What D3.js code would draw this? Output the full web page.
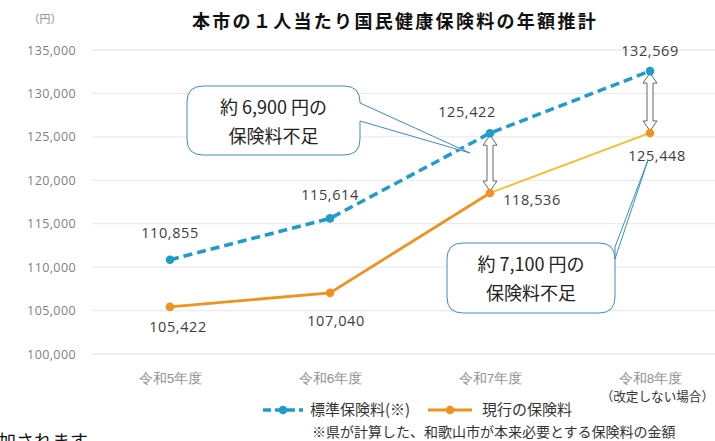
<!DOCTYPE html>
<html>
<head>
<meta charset="utf-8">
<script src="https://cdn.jsdelivr.net/npm/d3@7"></script>
<style>
  body { margin: 0; background: #fff; }
  svg { display: block; font-family: "Noto Sans CJK JP", "Noto Sans", sans-serif; }
</style>
</head>
<body>
<svg></svg>
<script>
const width = 715;
const height = 441;

// data
const years = ["令和5年度", "令和6年度", "令和7年度", "令和8年度"];
const standard = [110855, 115614, 125422, 132569];   // 標準保険料(※)
const current = [105422, 107040, 118536, 125448];    // 現行の保険料
const yTicks = [100000, 105000, 110000, 115000, 120000, 125000, 130000, 135000];

const svg = d3.select("svg")
    .attr("width", width)
    .attr("height", height);

const x = d3.scalePoint().domain(years).range([170, 650]);
const y = d3.scaleLinear().domain([100000, 135000]).range([354, 50]);
const fmt = d3.format(",");

// gridlines
svg.append("g").selectAll("line")
    .data(yTicks)
    .enter().append("line")
    .attr("x1", 92).attr("x2", width)
    .attr("y1", d => y(d)).attr("y2", d => y(d))
    .attr("stroke", "#ebebeb").attr("stroke-width", 1.3);

// y axis labels
const yAxis = d3.axisLeft(y).tickValues(yTicks).tickFormat(fmt).tickSize(0).tickPadding(0);
const gy = svg.append("g").attr("transform", "translate(76,0)").call(yAxis);
gy.select(".domain").remove();
gy.selectAll("text")
    .attr("fill", "#7f7f7f").style("font-size", "12.5px")
    .style("letter-spacing", "0.4px")
    .style("font-family", "'Open Sans', sans-serif");

svg.append("text").attr("x", 45).attr("y", 23).attr("text-anchor", "middle")
    .attr("fill", "#8a8a8a").style("font-size", "11px").text("（円）");

// x axis labels
const xAxis = d3.axisBottom(x).tickSize(0).tickPadding(0);
const gx = svg.append("g").attr("transform", "translate(0,373)").call(xAxis);
gx.select(".domain").remove();
gx.selectAll("text").attr("fill", "#8f8f8f").style("font-size", "13.5px");

svg.append("text").attr("x", 714).attr("y", 401).attr("text-anchor", "end")
    .attr("fill", "#333").style("font-size", "12.6px").text("（改定しない場合）");

// title
svg.append("text").attr("x", 395).attr("y", 28).attr("text-anchor", "middle")
    .attr("fill", "#111").style("font-size", "18px").style("font-weight", "bold")
    .style("letter-spacing", "2.3px")
    .text("本市の１人当たり国民健康保険料の年額推計");

// lines
const line = d3.line().x((d, i) => x(years[i])).y(d => y(d));
const blue = "#1f9cc9";
const orange = "#f0921e";

svg.append("path").datum(standard)
    .attr("d", line).attr("fill", "none")
    .attr("stroke", blue).attr("stroke-width", 3.5)
    .attr("stroke-dasharray", "9,5");

svg.append("path").datum(current.slice(0, 3))
    .attr("d", line).attr("fill", "none")
    .attr("stroke", orange).attr("stroke-width", 2.8);

svg.append("line")
    .attr("x1", x(years[2])).attr("y1", y(current[2]))
    .attr("x2", x(years[3])).attr("y2", y(current[3]))
    .attr("stroke", "#f7bd2b").attr("stroke-width", 1.8);

// double arrows between series
function dblArrow(cx, y1, y2) {
    const hw = 7, sw = 3, hl = 10;
    return `M${cx},${y1} L${cx + hw},${y1 + hl} L${cx + sw},${y1 + hl} L${cx + sw},${y2 - hl} L${cx + hw},${y2 - hl} ` +
        `L${cx},${y2} L${cx - hw},${y2 - hl} L${cx - sw},${y2 - hl} L${cx - sw},${y1 + hl} L${cx - hw},${y1 + hl} Z`;
}
[2, 3].forEach(i => {
    svg.append("path")
        .attr("d", dblArrow(x(years[i]), y(standard[i]) + 2, y(current[i]) - 2))
        .attr("fill", "#fff").attr("stroke", "#666").attr("stroke-width", 1);
});

// markers
svg.selectAll(".pt-s").data(standard).enter().append("circle")
    .attr("cx", (d, i) => x(years[i])).attr("cy", d => y(d)).attr("r", 4.3)
    .attr("fill", blue);
svg.selectAll(".pt-c").data(current).enter().append("circle")
    .attr("cx", (d, i) => x(years[i])).attr("cy", d => y(d)).attr("r", 4.3)
    .attr("fill", orange);

// data labels
const sOff = [[0, -22], [0, -18], [-23, -16], [0, -15]];
const cOff = [[8, 25], [6, 33], [42, 12], [7, 28]];
function label(sel) {
    sel.attr("text-anchor", "middle").attr("fill", "#404040")
        .style("font-size", "14.5px").style("letter-spacing", "0.6px")
        .style("font-family", "'Open Sans', sans-serif")
        .text(d => fmt(d));
}
svg.selectAll(".lb-s").data(standard).enter().append("text")
    .attr("x", (d, i) => x(years[i]) + sOff[i][0])
    .attr("y", (d, i) => y(d) + sOff[i][1])
    .call(label);
svg.selectAll(".lb-c").data(current).enter().append("text")
    .attr("x", (d, i) => x(years[i]) + cOff[i][0])
    .attr("y", (d, i) => y(d) + cOff[i][1])
    .call(label);

// callouts: rounded box with a tail on the right side
function callout(x0, y0, x1, y1, r, t1, t2, tip) {
    return `M${x0 + r},${y0} L${x1 - r},${y0} Q${x1},${y0} ${x1},${y0 + r} ` +
        `L${x1},${t1} L${tip[0]},${tip[1]} L${x1},${t2} ` +
        `L${x1},${y1 - r} Q${x1},${y1} ${x1 - r},${y1} L${x0 + r},${y1} Q${x0},${y1} ${x0},${y1 - r} ` +
        `L${x0},${y0 + r} Q${x0},${y0} ${x0 + r},${y0} Z`;
}
const callouts = [
    { box: [187, 86, 360, 155], t: [103, 121], tip: [470, 153], lines: ["約 6,900 円の", "保険料不足"] },
    { box: [447, 243, 615, 313], t: [247, 259], tip: [648, 160], lines: ["約 7,100 円の", "保険料不足"] }
];
callouts.forEach(c => {
    const [x0, y0, x1, y1] = c.box;
    svg.append("path").attr("d", callout(x0, y0, x1, y1, 16, c.t[0], c.t[1], c.tip))
        .attr("fill", "#fff").attr("stroke", "#3a8fc2").attr("stroke-width", 1);
    c.lines.forEach((l, j) => {
        svg.append("text").attr("x", (x0 + x1) / 2).attr("y", y0 + 28 + j * 29)
            .attr("text-anchor", "middle").attr("fill", "#222")
            .style("font-size", "18px").text(l);
    });
});

// legend
const lg = svg.append("g").attr("transform", "translate(0,410)");
lg.append("line").attr("x1", 263).attr("x2", 303).attr("y1", 0).attr("y2", 0)
    .attr("stroke", blue).attr("stroke-width", 3.5).attr("stroke-dasharray", "8,4");
lg.append("circle").attr("cx", 283).attr("cy", 0).attr("r", 4.3).attr("fill", blue);
lg.append("text").attr("x", 310).attr("y", 5).attr("fill", "#333").style("font-size", "15px").text("標準保険料(※)");
lg.append("line").attr("x1", 428).attr("x2", 472).attr("y1", 0).attr("y2", 0)
    .attr("stroke", orange).attr("stroke-width", 2.8);
lg.append("circle").attr("cx", 450).attr("cy", 0).attr("r", 4.3).attr("fill", orange);
lg.append("text").attr("x", 482).attr("y", 5).attr("fill", "#333").style("font-size", "15px").text("現行の保険料");

svg.append("text").attr("x", 312).attr("y", 437).attr("fill", "#333")
    .style("font-size", "14px").text("※県が計算した、和歌山市が本来必要とする保険料の金額");

// text from the page below, cut by the bottom edge as in the reference
svg.append("text").attr("x", -2).attr("y", 448).attr("fill", "#111")
    .style("font-size", "18px").text("加されます");
</script>
</body>
</html>
